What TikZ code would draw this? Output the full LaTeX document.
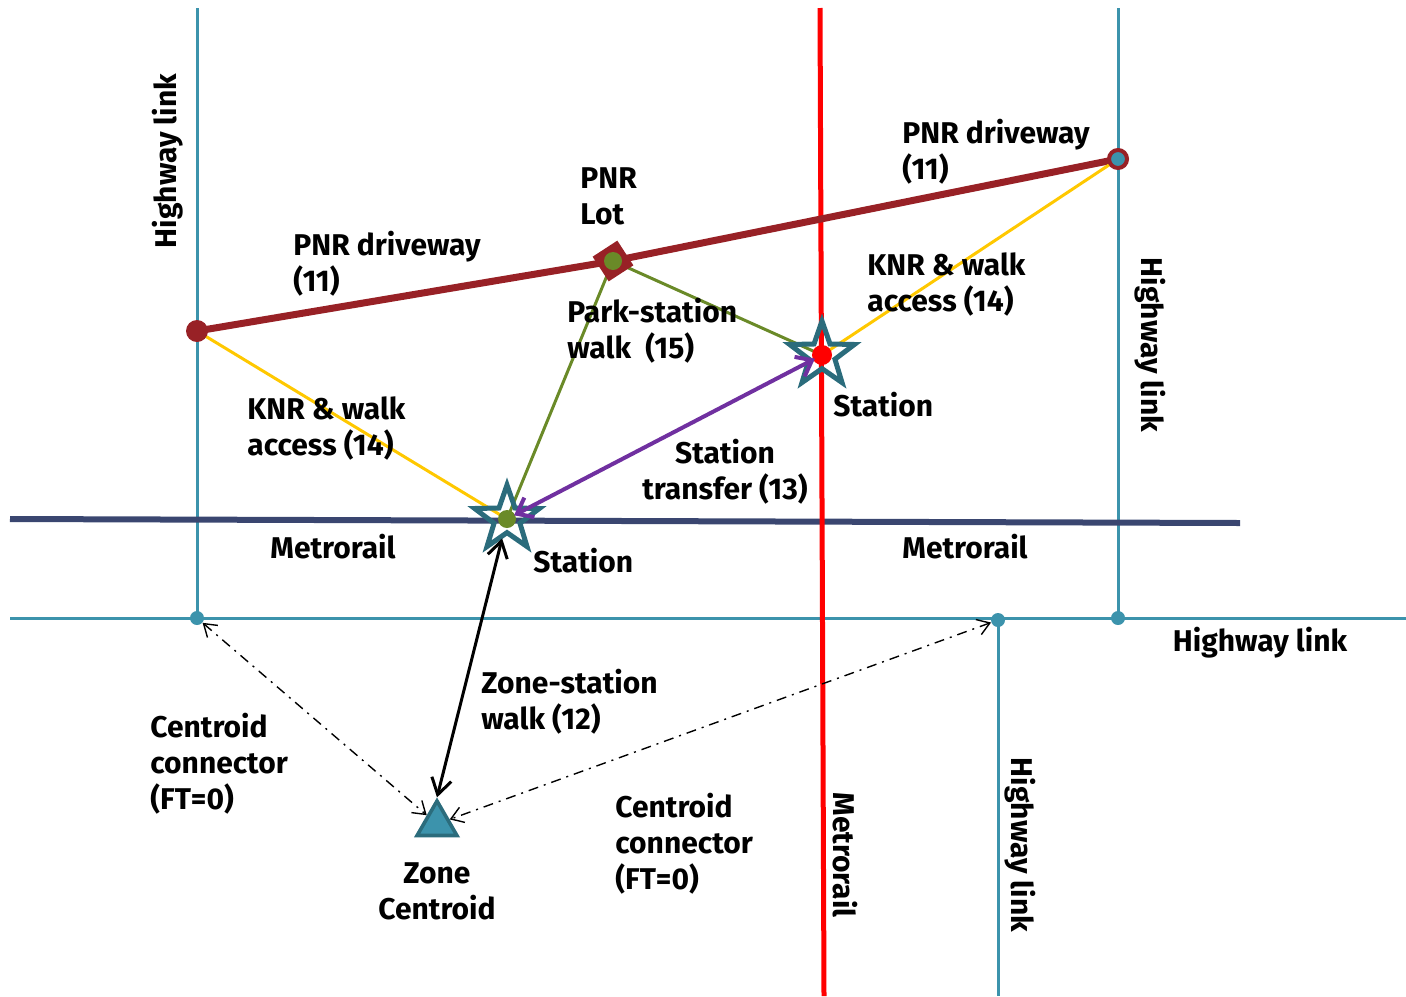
\documentclass[tikz,border=0pt]{standalone}
\usepackage{fontspec}
\setmainfont{Fira Sans}
\usetikzlibrary{arrows.meta,shapes.geometric}
\definecolor{hwyc}{HTML}{3C93AC}
\definecolor{stnc}{HTML}{2B6C7C}
\definecolor{navy}{HTML}{3A4670}
\definecolor{railred}{HTML}{FF0000}
\definecolor{pnrc}{HTML}{982126}
\definecolor{knrc}{HTML}{FFC800}
\definecolor{walkc}{HTML}{6A8A28}
\definecolor{xferc}{HTML}{7030A0}
\tikzset{
  hwy/.style={line width=1.5pt,hwyc},
  hdot/.style={circle,fill=hwyc,inner sep=0pt,minimum size=7pt},
  lbl/.style={font=\fontsize{15}{18}\selectfont\bfseries,align=left,inner sep=0pt},
  stn/.style={star,star points=5,star point ratio=2.5,draw=stnc,line width=2.5pt,minimum size=34pt,inner sep=0pt},
  pnr/.style={line width=3.5pt,pnrc},
  knr/.style={line width=1.5pt,knrc},
  pwalk/.style={line width=1.5pt,walkc},
  xfer/.style={{Straight Barb[length=7pt,width=11pt]}-{Straight Barb[length=7pt,width=11pt]},line width=2pt,xferc},
  zwalk/.style={{Straight Barb[length=8pt,width=10pt]}-{Straight Barb[length=8pt,width=10pt]},line width=1.5pt,black},
  cc/.style={{Straight Barb[length=6pt,width=8pt]}-{Straight Barb[length=6pt,width=8pt]},line width=0.7pt,dash pattern=on 5pt off 3pt on 1pt off 3pt}
}
\begin{document}
\begin{tikzpicture}[x=0.5pt,y=-0.5pt]
\useasboundingbox (0,0) rectangle (1406,996);
% highway links
\coordinate (hA) at (197,8);
\coordinate (hB) at (1118,8);
\coordinate (hW) at (10,618);
\coordinate (hE) at (1406,618);
\coordinate (hS) at (998,996);
\draw[hwy] (hW) -- (hE);
\node[hdot] (h1) at (197,618) {};
\node[hdot] (h2) at (998,620) {};
\node[hdot] (h3) at (1118,618) {};
\draw[hwy] (hA) -- (h1.center);
\draw[hwy] (hB) -- (h3.center);
\draw[hwy] (h2.center) -- (hS);
% metrorail
\coordinate (mW) at (10,519);
\coordinate (mE) at (1240,523);
\coordinate (mN) at (820,8);
\coordinate (mS) at (824,996);
\draw[line width=3pt,navy] (mW) -- (mE);
\draw[line width=2.5pt,railred] (mN) -- (mS);
% pnr driveway and lot
\coordinate (pA) at (197,331);
\coordinate (pB) at (1118,159);
\coordinate (lot) at (613,261);
\coordinate (s1) at (507,519);
\coordinate (s2) at (822,355);
\draw[pnr] (pA) -- (lot) -- (pB);
\draw[knr] (pA) -- (s1);
\draw[knr] (s2) -- (pB);
\draw[pwalk] (lot) -- (s1);
\draw[pwalk] (lot) -- (s2);
\fill[pnrc] (pA) circle (5.5pt);
\filldraw[fill=hwyc,draw=pnrc,line width=2pt] (pB) circle (4.5pt);
\node[diamond,fill=pnrc,minimum size=21pt,inner sep=0pt,rotate=-12] (lotbox) at (lot) {};
\fill[walkc] (lot) circle (4.5pt);
% stations
\fill[walkc] (s1) circle (4.5pt);
\fill[railred] (s2) circle (5pt);
\node[stn] (st1) at (s1) {};
\node[stn] (st2) at (s2) {};
% zone centroid
\node[regular polygon,regular polygon sides=3,fill=hwyc,draw=stnc,line width=1.8pt,minimum size=23pt,inner sep=0pt] (zc) at (437,824) {};
\draw[xfer,shorten <=4pt,shorten >=4pt] (st1.center) -- (st2.center);
\draw[zwalk,shorten <=10pt] (st1.center) -- (zc.north);
\draw[cc] (h1) -- (zc);
\draw[cc] (h2) -- (zc);
% labels
\node[lbl,rotate=90] (t1) at (168,161) {Highway link};
\node[lbl,rotate=-90] (t2) at (1150,345) {Highway link};
\node[lbl,rotate=-90] (t3) at (1020,845) {Highway link};
\node[lbl,rotate=-90] (t4) at (845,855) {Metrorail};
\node[lbl] (t5) at (1260,643) {Highway link};
\node[lbl,anchor=north west] (t6) at (293,231) {PNR driveway\\(11)};
\node[lbl,anchor=north west] (t7) at (580,167) {PNR\\Lot};
\node[lbl,anchor=north west] (t8) at (902,119) {PNR driveway\\(11)};
\node[lbl,anchor=north west] (t9) at (867,252) {KNR \& walk\\access (14)};
\node[lbl,anchor=north west] (t10) at (567,298) {Park-station\\walk~~(15)};
\node[lbl,anchor=west] (t11) at (833,405) {Station};
\node[lbl,anchor=north west] (t12) at (247,396) {KNR \& walk\\access (14)};
\node[lbl,anchor=north,align=center] (t13) at (725,439) {Station\\transfer (13)};
\node[lbl] (t14) at (333,547) {Metrorail};
\node[lbl] (t15) at (965,547) {Metrorail};
\node[lbl,anchor=west] (t16) at (533,561) {Station};
\node[lbl,anchor=north west] (t17) at (481,669) {Zone-station\\walk (12)};
\node[lbl,anchor=north west] (t18) at (150,713) {Centroid\\connector\\(FT=0)};
\node[lbl,anchor=north west] (t19) at (615,793) {Centroid\\connector\\(FT=0)};
\node[lbl,anchor=north,align=center] (t20) at (437,862) {Zone\\Centroid};
\end{tikzpicture}
\end{document}
